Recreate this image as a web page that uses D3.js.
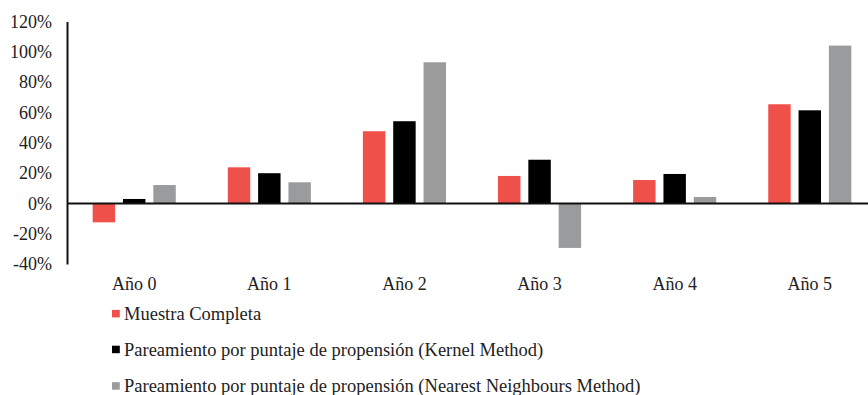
<!DOCTYPE html>
<html><head><meta charset="utf-8">
<script src="https://cdn.jsdelivr.net/npm/d3@7"></script>
<style>body{margin:0;background:#fff}svg{display:block}text{font-family:"Liberation Serif","Times New Roman",serif;fill:#222}</style>
</head><body>
<svg id="c" width="868" height="395"></svg>
<script>
const categories = ["Año 0","Año 1","Año 2","Año 3","Año 4","Año 5"];
const seriesNames = ["Muestra Completa","Pareamiento por puntaje de propensión (Kernel Method)","Pareamiento por puntaje de propensión (Nearest Neighbours Method)"];
const seriesColors = ["#EF514A","#000000","#999B9C"];
const muestra = [-12.5, 23.8, 47.6, 18.1, 15.4, 65.4];
const kernel = [2.9, 19.9, 54.2, 28.8, 19.4, 61.4];
const nearest = [12.1, 13.9, 93.1, -29.4, 4.2, 104.1];
const yTicks = [-40,-20,0,20,40,60,80,100,120];

(function(){
const series = [muestra, kernel, nearest];
const svg = d3.select("#c");
const mLeft = 67, mRight = 877, mTop = 21.5, mBottom = 264;
const x = d3.scaleBand().domain(categories).range([mLeft, mRight]).paddingInner(0.385).paddingOuter(0.19);
const xs = d3.scaleBand().domain(d3.range(3)).range([0, x.bandwidth()]).paddingInner(0.26);
const y = d3.scaleLinear().domain([-40,120]).range([mBottom, mTop]);

series.forEach((vals, si) => {
  svg.append("g").selectAll("rect").data(vals).join("rect")
    .attr("x", (d,i) => x(categories[i]) + xs(si))
    .attr("width", xs.bandwidth())
    .attr("y", d => y(Math.max(0,d)))
    .attr("height", d => Math.abs(y(d) - y(0)))
    .attr("fill", seriesColors[si]);
});

const ya = d3.axisLeft(y).tickValues(yTicks).tickSize(0).tickPadding(15).tickFormat(d => d + "%");
const gy = svg.append("g").attr("transform", `translate(${mLeft},0)`).call(ya);
gy.select(".domain").attr("stroke","#111").attr("stroke-width",2);
gy.selectAll("text").attr("font-size","18px").attr("fill","#222");

svg.append("line").attr("x1", mLeft).attr("x2", 868).attr("y1", y(0)).attr("y2", y(0))
  .attr("stroke","#111").attr("stroke-width",2);

const xa = d3.axisBottom(x).tickSize(0).tickPadding(0);
const gx = svg.append("g").attr("transform", `translate(0,${mBottom+13})`).call(xa);
gx.select(".domain").remove();
gx.selectAll("text").attr("font-size","18px").attr("fill","#222");

const lg = svg.append("g");
const rowsY = [313.7, 349.5, 386];
seriesNames.forEach((n, i) => {
  lg.append("rect").attr("x", 112).attr("y", rowsY[i]-3.8).attr("width", 7.8).attr("height", 7.5).attr("fill", seriesColors[i]);
  lg.append("text").attr("x", 124).attr("y", rowsY[i]).attr("dy","0.35em").attr("font-size","18.5px").text(n);
});
})();
</script>
</body></html>
